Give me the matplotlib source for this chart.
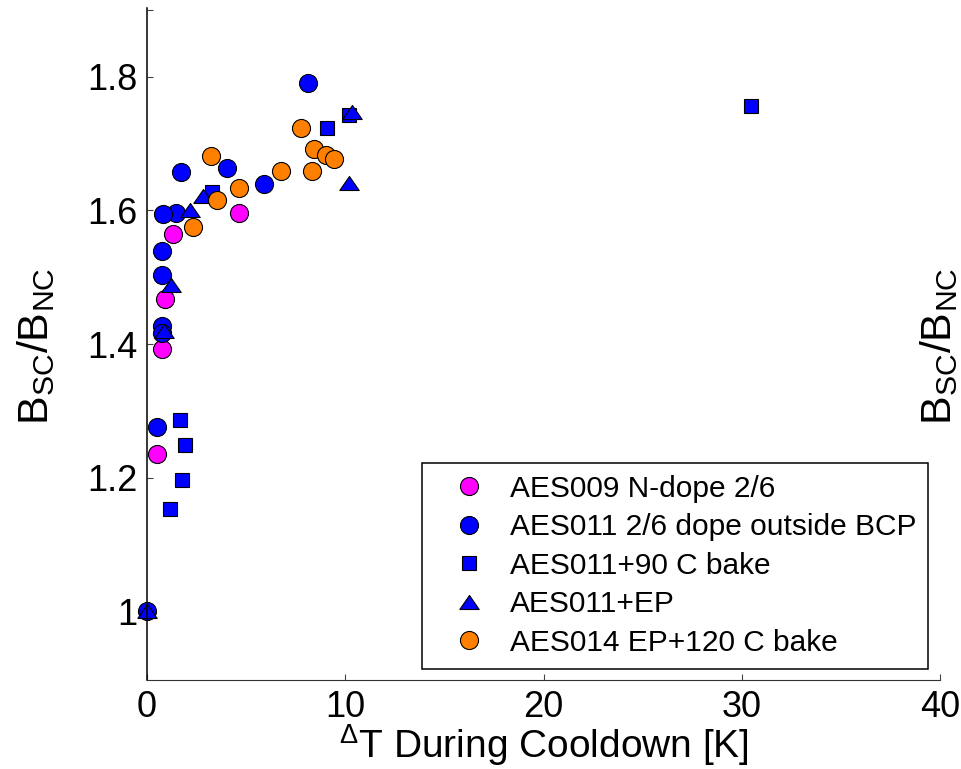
import matplotlib
matplotlib.use("Agg")
import matplotlib.pyplot as plt

plt.rcParams['font.family'] = ['Liberation Sans', 'DejaVu Sans']
plt.rcParams['mathtext.fontset'] = 'custom'
plt.rcParams['mathtext.rm'] = 'Liberation Sans'
plt.rcParams['mathtext.it'] = 'Liberation Sans:italic'
plt.rcParams['mathtext.bf'] = 'Liberation Sans:bold'

# ---- data ----
aes009_x = [4.65, 1.33, 0.91, 0.74, 0.49]
aes009_y = [1.596, 1.565, 1.468, 1.392, 1.236]

aes011_x = [8.10, 4.06, 5.91, 1.70, 1.45, 0.83, 0.77, 0.77, 0.77, 0.77, 0.49, 0.0]
aes011_y = [1.791, 1.664, 1.639, 1.657, 1.596, 1.594, 1.539, 1.504, 1.427, 1.417, 1.275, 1.0]

bake90_x = [30.45, 10.20, 9.07, 3.26, 1.65, 1.90, 1.75, 1.15]
bake90_y = [1.756, 1.743, 1.724, 1.628, 1.286, 1.249, 1.197, 1.153]

ep_x = [10.34, 10.20, 2.83, 2.15, 1.20, 0.86, 0.0]
ep_y = [1.748, 1.641, 1.621, 1.601, 1.488, 1.419, 1.0]

aes014_x = [7.76, 8.43, 9.02, 9.44, 8.32, 6.75, 3.22, 4.65, 3.55, 2.34]
aes014_y = [1.724, 1.692, 1.683, 1.677, 1.659, 1.659, 1.681, 1.634, 1.616, 1.575]

labels = ['AES009 N-dope 2/6', 'AES011 2/6 dope outside BCP', 'AES011+90 C bake',
          'AES011+EP', 'AES014 EP+120 C bake']
xticks = [0, 10, 20, 30, 40]
yticks = [1.0, 1.2, 1.4, 1.6, 1.8, 1.9]
yticklabels = ['1', '1.2', '1.4', '1.6', '1.8', '']

W, H = 961, 769
fig = plt.figure(figsize=(W / 100, H / 100), dpi=100)
ax = fig.add_axes([147 / W, 89 / H, 793 / W, 672 / H])

tri = [(-1, -0.72), (1, -0.72), (0, 0.72), (-1, -0.72)]
common = dict(ls='none', mec='black', mew=0.8, clip_on=False)
ax.plot(aes009_x, aes009_y, marker='o', ms=13, mfc='#FF00FF', label=labels[0], **common)
ax.plot(aes011_x, aes011_y, marker='o', ms=13, mfc='#0000FF', label=labels[1], **common)
ax.plot(bake90_x, bake90_y, marker='s', ms=9.6, mfc='#0000FF', label=labels[2], **common)
ax.plot(ep_x, ep_y, marker=tri, ms=14, mfc='#0000FF', label=labels[3], **common)
ax.plot(aes014_x, aes014_y, marker='o', ms=13, mfc='#FF8000', label=labels[4], **common)

ax.set_xlim(0, 40)
ax.set_ylim(0.897, 1.903)
ax.set_xticks(xticks)
ax.set_xticklabels([str(t) for t in xticks])
ax.set_yticks(yticks)
ax.set_yticklabels(yticklabels)
ax.tick_params(direction='in', length=4, width=0.8, color='#444444', labelsize=26)
ax.tick_params(axis='y', pad=7)
ax.tick_params(axis='x', pad=7)
for s in ['top', 'right']:
    ax.spines[s].set_visible(False)
ax.spines['left'].set_linewidth(1.1)
ax.spines['bottom'].set_linewidth(0.8)
ax.spines['bottom'].set_color('#333333')

ax.set_xlabel(r'$\mathregular{^{\Delta}}$T During Cooldown [K]', fontsize=28)
ax.xaxis.set_label_coords(0.5, (769 - 722 - 89) / 672)

ylab = r'B$\mathregular{_{SC}}$/B$\mathregular{_{NC}}$'
fig.text(36 / W, 1 - 346 / H, ylab, rotation=90, ha='center', va='center', fontsize=31)
fig.text(939 / W, 1 - 346 / H, ylab, rotation=90, ha='center', va='center', fontsize=31)

leg = ax.legend(loc='upper left', bbox_to_anchor=(421.7 / W, 1 - 463 / H),
                bbox_transform=fig.transFigure, borderaxespad=0, fontsize=21.5,
                frameon=True, fancybox=False, framealpha=1, edgecolor='black',
                borderpad=0.4, handlelength=2.36, handletextpad=0.19,
                labelspacing=0.35, numpoints=1)
leg.get_frame().set_linewidth(1.1)

fig.savefig('out.png', dpi=100)
